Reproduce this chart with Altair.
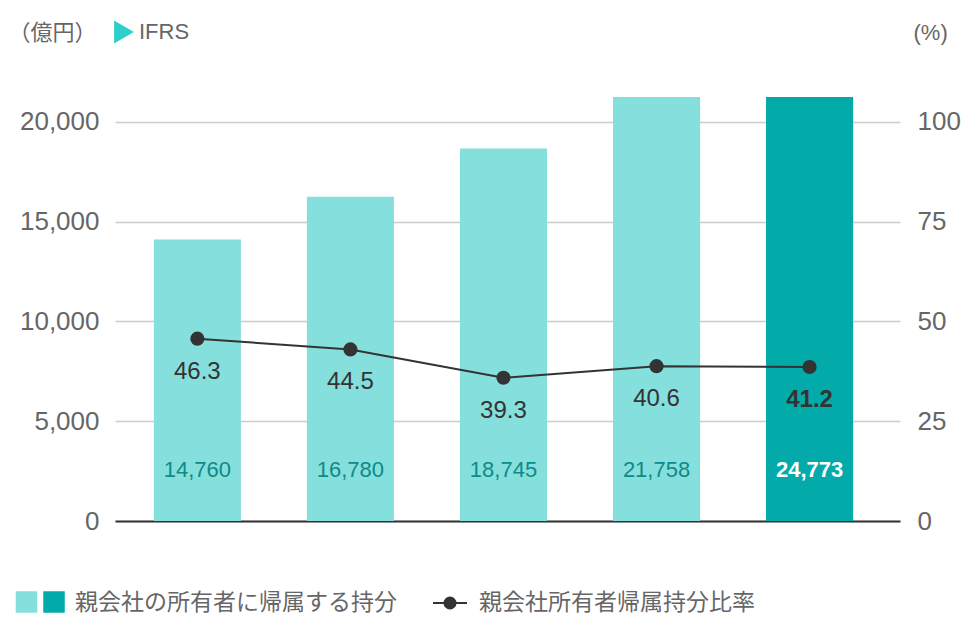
import altair as alt
import pandas as pd

# ---- data ----
periods = ["FY1", "FY2", "FY3", "FY4", "FY5"]
equity_values = [14110, 16250, 18670, 21758, 24773]          # bar heights as drawn
equity_labels = ["14,760", "16,780", "18,745", "21,758", "24,773"]
ratio_values = [45.7, 43.0, 35.9, 38.8, 38.6]                 # point heights as drawn
ratio_labels = ["46.3", "44.5", "39.3", "40.6", "41.2"]
bar_kind = ["past", "past", "past", "past", "latest"]

left_ticks = [0, 5000, 10000, 15000, 20000]
right_ticks = [0, 25, 50, 75, 100]

legend_labels = ["親会社の所有者に帰属する持分", "親会社所有者帰属持分比率"]
unit_left = "（億円）"
unit_right = "(%)"
standard_label = "IFRS"

# ---- styling ----
LIGHT = "#85dfdd"
DARK = "#02aaa9"
TEAL_TEXT = "#0f8a86"
LINE = "#333333"
GRAY = "#666666"
LATIN = "Liberation Sans"
CJK = "Noto Sans CJK JP"

W, H = 785, 424
Y_MAX = 21253
R_MAX = Y_MAX / 200.0

df = pd.DataFrame({
    "period": periods,
    "equity": equity_values,
    "equity_label": equity_labels,
    "ratio": ratio_values,
    "ratio_label": ratio_labels,
    "kind": bar_kind,
})

x_scale = alt.Scale(paddingInner=0.431, paddingOuter=0.28, align=0.453)
x_axis = alt.Axis(title=None, labels=False, ticks=False, grid=False,
                  domain=True, domainColor=LINE, domainWidth=2)
x_enc = alt.X("period:N", sort=periods, scale=x_scale, axis=x_axis)

left_scale = alt.Scale(domain=[0, Y_MAX], nice=False, zero=True)
left_axis = alt.Axis(orient="left", values=left_ticks,
                     labelExpr="format(datum.value, ',')",
                     title=unit_left, titleAngle=0, titleAlign="left",
                     titleBaseline="middle", titleX=-107, titleY=-65,
                     titleFont=CJK, titleFontSize=22, titleFontWeight="normal",
                     titleColor=GRAY,
                     labelPadding=16, ticks=False, domain=False,
                     grid=True, gridColor="#cccccc", gridWidth=1.5,
                     labelFont=LATIN, labelFontSize=26, labelColor=GRAY)

right_scale = alt.Scale(domain=[0, R_MAX], nice=False, zero=True)
right_axis = alt.Axis(orient="right", values=right_ticks,
                      title=unit_right, titleAngle=0, titleAlign="left",
                      titleBaseline="middle", titleX=13, titleY=-65,
                      titleFont=LATIN, titleFontSize=22, titleFontWeight="normal",
                      titleColor=GRAY,
                      labelPadding=17, ticks=False, domain=False, grid=False,
                      labelFont=LATIN, labelFontSize=26, labelColor=GRAY)

base = alt.Chart(df)

bars = base.mark_bar(clip=True).encode(
    x=x_enc,
    y=alt.Y("equity:Q", scale=left_scale, axis=left_axis),
    color=alt.Color("kind:N", scale=alt.Scale(domain=["past", "latest"], range=[LIGHT, DARK]),
                    legend=None),
)

y_zero = alt.YDatum(0, type="quantitative", scale=left_scale, axis=left_axis)

bar_text_past = base.transform_filter(alt.datum.kind == "past").mark_text(
    font=LATIN, fontSize=22, color=TEAL_TEXT, baseline="middle", dy=-51
).encode(x=x_enc, y=y_zero, text="equity_label:N")

bar_text_latest = base.transform_filter(alt.datum.kind == "latest").mark_text(
    font=LATIN, fontSize=22, fontWeight="bold", color="white", baseline="middle", dy=-51
).encode(x=x_enc, y=y_zero, text="equity_label:N")

left_group = alt.layer(bars, bar_text_past, bar_text_latest)

y_ratio = alt.Y("ratio:Q", scale=right_scale, axis=right_axis)

line = base.mark_line(color=LINE, strokeWidth=2).encode(x=x_enc, y=y_ratio)
points = base.mark_circle(color=LINE, opacity=1, size=200).encode(x=x_enc, y=y_ratio)
ratio_text_past = base.transform_filter(alt.datum.kind == "past").mark_text(
    font=LATIN, fontSize=24, color=LINE, baseline="middle", dy=33
).encode(x=x_enc, y=y_ratio, text="ratio_label:N")
ratio_text_latest = base.transform_filter(alt.datum.kind == "latest").mark_text(
    font=LATIN, fontSize=24, fontWeight="bold", color=LINE, baseline="middle", dy=33
).encode(x=x_enc, y=y_ratio, text="ratio_label:N")

right_group = alt.layer(line, points, ratio_text_past, ratio_text_latest)

# ---- header marker and legend ----
one = pd.DataFrame({"t": [standard_label]})
ifrs_tri = alt.Chart(one).mark_point(shape="triangle-right", filled=True, color="#2ecfcb",
                                     opacity=1, size=520).encode(
    x=alt.value(9), y=alt.value(-65))
ifrs_txt = alt.Chart(one).mark_text(font=LATIN, fontSize=22, color=GRAY, align="left",
                                    baseline="middle").encode(
    x=alt.value(24), y=alt.value(-65), text="t:N")

leg = pd.DataFrame({"t": [legend_labels[0]]})
leg2 = pd.DataFrame({"t": [legend_labels[1]]})
sq1 = alt.Chart(leg).mark_square(color=LIGHT, opacity=1, size=462).encode(
    x=alt.value(-88.5), y=alt.value(505))
sq2 = alt.Chart(leg).mark_square(color=DARK, opacity=1, size=462).encode(
    x=alt.value(-61), y=alt.value(505))
leg_txt1 = alt.Chart(leg).mark_text(font=CJK, fontSize=23, color=GRAY, align="left",
                                    baseline="middle").encode(
    x=alt.value(-40), y=alt.value(506), text="t:N")
leg_rule = alt.Chart(leg2).mark_rule(color=LINE, strokeWidth=2).encode(
    x=alt.value(318), x2=alt.value(352), y=alt.value(506))
leg_dot = alt.Chart(leg2).mark_circle(color=LINE, opacity=1, size=170).encode(
    x=alt.value(335), y=alt.value(506))
leg_txt2 = alt.Chart(leg2).mark_text(font=CJK, fontSize=23, color=GRAY, align="left",
                                     baseline="middle").encode(
    x=alt.value(364), y=alt.value(506), text="t:N")

chart = alt.layer(
    left_group, right_group,
    ifrs_tri, ifrs_txt, sq1, sq2, leg_txt1, leg_rule, leg_dot, leg_txt2,
).resolve_scale(y="independent").properties(
    width=W, height=H,
    autosize=alt.AutoSizeParams(type="none"),
    padding={"left": 107, "top": 89, "right": 72, "bottom": 100},
).configure_view(stroke=None)

chart.save("out.html", embed_options={"renderer": "svg", "actions": False})
